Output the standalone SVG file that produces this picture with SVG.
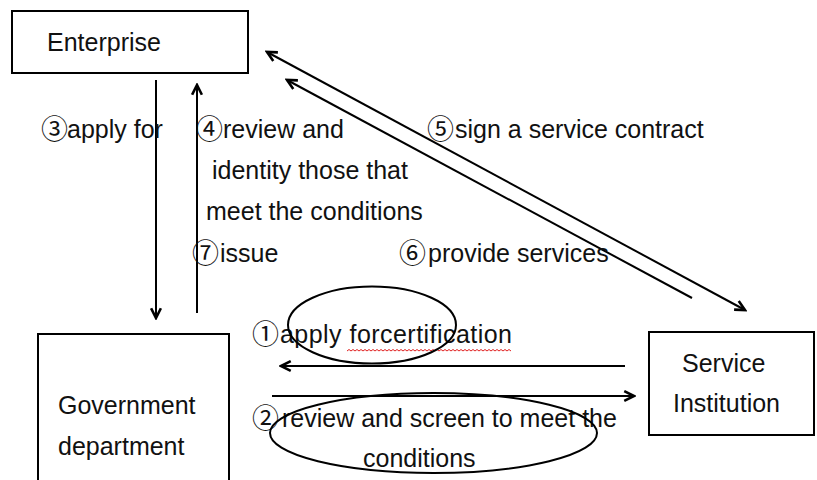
<svg xmlns="http://www.w3.org/2000/svg" width="817" height="480" viewBox="0 0 817 480">
  <style>
    .box { fill: #fff; stroke: #000; stroke-width: 2; }
    .lbl { font-family: "Liberation Sans", Arial, "Noto Sans CJK SC", sans-serif; font-size: 25px; fill: #111; }
    .num { font-family: "Noto Sans CJK SC", "DejaVu Sans", sans-serif; font-size: 27px; fill: #111; }
    .wire { stroke: #000; stroke-width: 2; fill: none; }
    .ring { stroke: #000; stroke-width: 2; fill: none; }
  </style>
  <defs>
    <marker id="head" viewBox="0 0 12 12" refX="10" refY="6" markerWidth="13" markerHeight="13" markerUnits="userSpaceOnUse" orient="auto-start-reverse">
      <path d="M1,1.5 L10,6 L1,10.5" fill="none" stroke="#000" stroke-width="2.4" stroke-linejoin="miter"/>
    </marker>
  </defs>

  <rect width="817" height="480" fill="#fff"/>

  <g id="enterprise">
    <rect class="box" x="12" y="11" width="236" height="62"/>
    <text class="lbl" x="47" y="51">Enterprise</text>
  </g>

  <g id="government">
    <rect class="box" x="38" y="334" width="191" height="160"/>
    <text class="lbl" x="58" y="414">Government</text>
    <text class="lbl" x="58" y="455">department</text>
  </g>

  <g id="service">
    <rect class="box" x="649" y="332" width="165" height="103"/>
    <text class="lbl" x="682" y="372">Service</text>
    <text class="lbl" x="673" y="412">Institution</text>
  </g>

  <g id="connectors">
    <line class="wire" x1="156" y1="80" x2="156" y2="318" marker-end="url(#head)"/>
    <line class="wire" x1="197" y1="313" x2="197" y2="85" marker-end="url(#head)"/>
    <line class="wire" x1="267" y1="52" x2="745" y2="310" marker-start="url(#head)" marker-end="url(#head)"/>
    <line class="wire" x1="692" y1="298" x2="287" y2="80" marker-end="url(#head)"/>
    <line class="wire" x1="625" y1="366" x2="281" y2="366" marker-end="url(#head)"/>
    <line class="wire" x1="272" y1="396" x2="634" y2="396" marker-end="url(#head)"/>
  </g>

  <g id="labels">
    <text class="lbl"><tspan class="num" x="41" y="139">③</tspan><tspan x="67" y="138">apply for</tspan></text>
    <text class="lbl"><tspan class="num" x="196" y="139">④</tspan><tspan x="223" y="138">review and</tspan></text>
    <text class="lbl" x="212" y="179">identity those that</text>
    <text class="lbl" x="206" y="220">meet the conditions</text>
    <text class="lbl"><tspan class="num" x="192" y="263">⑦</tspan><tspan x="220" y="262">issue</tspan></text>
    <text class="lbl"><tspan class="num" x="427" y="139">⑤</tspan><tspan x="455" y="138">sign a service contract</tspan></text>
    <text class="lbl"><tspan class="num" x="399" y="263">⑥</tspan><tspan x="428" y="262">provide services</tspan></text>
    <text class="lbl"><tspan class="num" x="252" y="344">①</tspan><tspan x="280" y="343" textLength="232" lengthAdjust="spacing">apply forcertification</tspan></text>
    <!-- spell-check squiggle under the joined word -->
    <path d="M347,351
             l2,-1.5 l2,1.5 l2,-1.5 l2,1.5 l2,-1.5 l2,1.5 l2,-1.5 l2,1.5 l2,-1.5 l2,1.5
             l2,-1.5 l2,1.5 l2,-1.5 l2,1.5 l2,-1.5 l2,1.5 l2,-1.5 l2,1.5 l2,-1.5 l2,1.5
             l2,-1.5 l2,1.5 l2,-1.5 l2,1.5 l2,-1.5 l2,1.5 l2,-1.5 l2,1.5 l2,-1.5 l2,1.5
             l2,-1.5 l2,1.5 l2,-1.5 l2,1.5 l2,-1.5 l2,1.5 l2,-1.5 l2,1.5 l2,-1.5 l2,1.5
             l2,-1.5 l2,1.5 l2,-1.5 l2,1.5 l2,-1.5 l2,1.5 l2,-1.5 l2,1.5 l2,-1.5 l2,1.5
             l2,-1.5 l2,1.5 l2,-1.5 l2,1.5 l2,-1.5 l2,1.5 l2,-1.5 l2,1.5 l2,-1.5 l2,1.5
             l2,-1.5 l2,1.5 l2,-1.5 l2,1.5 l2,-1.5 l2,1.5 l2,-1.5 l2,1.5 l2,-1.5 l2,1.5
             l2,-1.5 l2,1.5 l2,-1.5 l2,1.5 l2,-1.5 l2,1.5 l2,-1.5 l2,1.5 l2,-1.5 l2,1.5
             l2,-1.5 l2,1.5" fill="none" stroke="#e02020" stroke-width="1"/>
    <text class="lbl"><tspan class="num" x="252" y="428">②</tspan><tspan x="282" y="427">review and screen to meet the</tspan></text>
    <text class="lbl" x="363" y="467">conditions</text>
  </g>

  <g id="highlights">
    <ellipse class="ring" cx="372" cy="325" rx="84" ry="38.5"/>
    <ellipse class="ring" cx="433.5" cy="433" rx="163.5" ry="40"/>
  </g>
</svg>
